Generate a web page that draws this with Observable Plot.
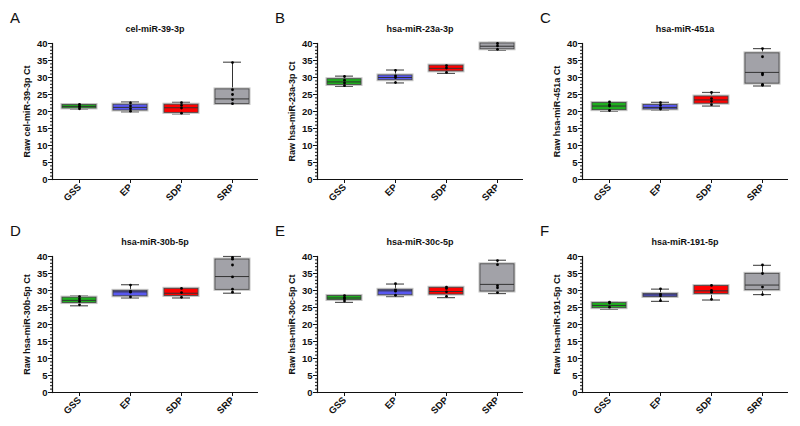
<!DOCTYPE html>
<html>
<head>
<meta charset="utf-8">
<script src="https://cdn.jsdelivr.net/npm/d3@7"></script>
<script src="https://cdn.jsdelivr.net/npm/@observablehq/plot@0.6"></script>
<style>
  html, body { margin: 0; padding: 0; background: #fff; }
  #wrap { position: relative; width: 800px; height: 426px; font-family: "Liberation Sans", Arial, sans-serif; }
  .panel { position: absolute; width: 266px; height: 213px; }
  .letter { position: absolute; left: 10px; top: 10px; font-size: 15px; line-height: 15px; color: #111; }
  .title { position: absolute; left: 52px; width: 206px; top: 24px; text-align: center; font-size: 9px; font-weight: bold; line-height: 10px; color: #111; }
  .panel svg { position: absolute; left: 0; top: 0; }
</style>
</head>
<body>
<div id="wrap"></div>
<script>
const groups = ["GSS", "EP", "SDP", "SRP"];
const groupColors = ["#1fae1f", "#5858f0", "#ff0000", "#a2a2a8"];
const letters = ["A", "B", "C", "D", "E", "F"];
const titles = ["cel-miR-39-3p", "hsa-miR-23a-3p", "hsa-miR-451a", "hsa-miR-30b-5p", "hsa-miR-30c-5p", "hsa-miR-191-5p"];
const yLabels = ["Raw cel-miR-39-3p Ct", "Raw hsa-miR-23a-3p Ct", "Raw hsa-miR-451a Ct", "Raw hsa-miR-30b-5p Ct", "Raw hsa-miR-30c-5p Ct", "Raw hsa-miR-191-5p Ct"];
const yTicks = [0, 5, 10, 15, 20, 25, 30, 35, 40];

// per panel, per group (GSS, EP, SDP, SRP)
const whiskerLow = [
  [20.7, 19.9, 19.3, 22.2],
  [27.4, 28.4, 31.2, 38.0],
  [20.1, 20.4, 21.6, 27.5],
  [25.5, 27.8, 27.8, 29.2],
  [26.5, 28.2, 27.9, 29.1],
  [24.5, 26.8, 27.2, 28.8]
];
const quartile1 = [
  [20.9, 20.3, 19.6, 22.2],
  [27.8, 29.2, 31.8, 38.3],
  [20.4, 20.6, 22.3, 28.2],
  [26.3, 28.3, 28.4, 30.2],
  [27.2, 28.6, 28.8, 29.7],
  [24.8, 28.1, 29.0, 30.1]
];
const median = [
  [21.5, 21.2, 21.1, 23.7],
  [28.7, 30.0, 32.7, 39.2],
  [21.6, 21.2, 23.4, 31.5],
  [27.1, 29.6, 29.2, 34.1],
  [27.8, 29.9, 29.7, 31.8],
  [25.6, 28.7, 29.9, 31.6]
];
const quartile3 = [
  [21.9, 22.0, 22.0, 26.5],
  [29.5, 30.6, 33.5, 40.0],
  [22.5, 21.9, 24.4, 37.1],
  [27.9, 29.9, 30.5, 39.1],
  [28.4, 30.2, 30.8, 37.7],
  [26.3, 29.0, 31.3, 34.9]
];
const whiskerHigh = [
  [22.2, 22.8, 22.7, 34.5],
  [30.4, 32.2, 33.8, 40.3],
  [22.8, 22.7, 25.6, 38.5],
  [28.4, 31.7, 30.8, 40.0],
  [28.6, 31.9, 31.1, 38.9],
  [26.7, 30.4, 31.6, 37.4]
];
const samplePoints = [
  [[22.1, 21.6, 21.3, 20.8], [22.5, 21.6, 20.8, 20.1], [22.6, 21.8, 21.0, 19.5], [34.4, 26.4, 25.0, 23.5, 22.3]],
  [[30.3, 29.2, 28.4, 27.6], [32.1, 30.5, 30.0, 28.5], [33.5, 32.8, 31.5], [40.0, 39.3, 38.3]],
  [[22.8, 22.0, 21.6, 20.3], [22.6, 21.8, 21.0, 20.7], [25.6, 23.8, 23.0, 22.0], [38.5, 36.1, 31.2, 30.8, 28.0, 27.7]],
  [[28.2, 27.5, 26.8, 25.8], [31.6, 29.8, 29.5, 28.1], [30.6, 29.4, 28.0], [39.7, 39.2, 37.5, 34.0, 30.4, 29.5]],
  [[28.5, 27.9, 27.5, 26.9], [32.0, 30.2, 29.8, 28.6], [31.0, 30.6, 29.6, 28.3], [38.8, 37.6, 31.4, 30.8, 29.4]],
  [[26.6, 26.3, 25.1], [30.5, 28.9, 28.4, 27.0], [31.5, 30.0, 29.5, 27.4], [37.5, 35.0, 31.0, 28.8]]
];

const wrap = document.getElementById("wrap");
const font = "Liberation Sans, Arial, sans-serif";

letters.forEach((letter, p) => {
  const col = p % 3, row = Math.floor(p / 3);
  const panel = document.createElement("div");
  panel.className = "panel";
  panel.style.left = (col * 265) + "px";
  panel.style.top = (row * 213) + "px";

  const stats = groups.map((g, i) => ({
    group: g, color: groupColors[i],
    lo: whiskerLow[p][i], q1: quartile1[p][i], med: median[p][i],
    q3: quartile3[p][i], hi: whiskerHigh[p][i]
  }));
  const pts = [];
  groups.forEach((g, i) => samplePoints[p][i].forEach(v => pts.push({group: g, value: v})));

  const chart = Plot.plot({
    width: 266,
    height: 213,
    marginLeft: 52,
    marginRight: 8,
    marginTop: 43,
    marginBottom: 34,
    style: {fontFamily: font, fontSize: "9px", fontWeight: "bold", color: "#111", background: "transparent"},
    x: {type: "band", domain: groups, paddingInner: 0.34, paddingOuter: 0.17, label: null},
    y: {domain: [0, 40], label: null},
    marks: [
      Plot.axisY({ticks: d3.range(0, 41, 1), tickSize: 2, text: null, stroke: "#111"}),
      Plot.axisY({ticks: yTicks, tickSize: 4, tickPadding: 1, stroke: "#111", fontWeight: "bold", fontSize: 9.5, label: null}),
      Plot.axisX({tickSize: 4, tickRotate: -45, tickPadding: 2, fontWeight: "bold", fontSize: 9.5, label: null}),
      Plot.frame({anchor: "left", stroke: "#111", strokeWidth: 1.2}),
      Plot.ruleY([0], {stroke: "#111", strokeWidth: 1.2}),
      Plot.text([yLabels[p]], {frameAnchor: "left", textAnchor: "middle", rotate: -90, dx: -25, fontSize: 9, fontWeight: "bold", fill: "#111"}),
      // whiskers
      Plot.ruleX(stats, {x: "group", y1: "lo", y2: "q1", stroke: "#333", strokeWidth: 1}),
      Plot.ruleX(stats, {x: "group", y1: "q3", y2: "hi", stroke: "#333", strokeWidth: 1}),
      Plot.tickY(stats, {x: "group", y: "lo", stroke: "#555", strokeWidth: 1.2, insetLeft: 8, insetRight: 8}),
      Plot.tickY(stats, {x: "group", y: "hi", stroke: "#555", strokeWidth: 1.2, insetLeft: 8, insetRight: 8}),
      // box halo and box
      Plot.barY(stats, {x: "group", y1: "q1", y2: "q3", fill: "none", stroke: "#c4c4c4", strokeWidth: 3}),
      Plot.barY(stats, {x: "group", y1: "q1", y2: "q3", fill: "color", stroke: "#444", strokeWidth: 0.8}),
      Plot.tickY(stats, {x: "group", y: "med", stroke: "#333", strokeWidth: 1}),
      // sample points
      Plot.dot(pts, {x: "group", y: "value", r: 1.4, fill: "#000", stroke: "none"})
    ]
  });
  panel.appendChild(chart);

  const l = document.createElement("div");
  l.className = "letter";
  l.textContent = letter;
  panel.appendChild(l);

  const t = document.createElement("div");
  t.className = "title";
  t.textContent = titles[p];
  panel.appendChild(t);

  wrap.appendChild(panel);
});
</script>
</body>
</html>
